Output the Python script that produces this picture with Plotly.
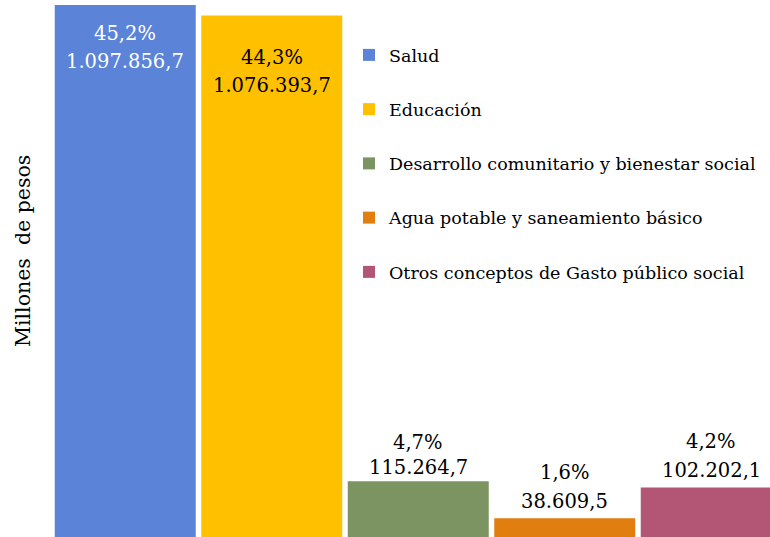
import plotly.graph_objects as go

categories = ["Salud", "Educación", "Desarrollo comunitario y bienestar social",
              "Agua potable y saneamiento básico", "Otros conceptos de Gasto público social"]
values = [1097856.7, 1076393.7, 115264.7, 38609.5, 102202.1]
percent_labels = ["45,2%", "44,3%", "4,7%", "1,6%", "4,2%"]
value_labels = ["1.097.856,7", "1.076.393,7", "115.264,7", "38.609,5", "102.202,1"]

colors = ["#5B83D7", "#FFC000", "#7B9462", "#E07F10", "#B35574"]
label_colors = ["white", "black", "black", "black", "black"]
# vertical pixel offsets of each label line's centre from the bar top (+ = up)
pct_shift = [-28.5, -42, 39, 45.5, 46]
val_shift = [-56.5, -70, 14, 17, 17]

FONT = "DejaVu Serif"
W, H = 770, 537
ML = 52
plot_w = W - ML
slot = 146.5

fig = go.Figure()
for i, (cat, v, c) in enumerate(zip(categories, values, colors)):
    fig.add_trace(go.Bar(
        x=[i], y=[v], name=cat, marker=dict(color=c, line=dict(width=0)),
        width=0.9625, legendgroup=str(i), showlegend=True, hoverinfo="skip",
    ))
    for txt, sh in ((percent_labels[i], pct_shift[i]), (value_labels[i], val_shift[i])):
        fig.add_annotation(
            x=i, y=v, xref="x", yref="y", text=txt, showarrow=False,
            yanchor="middle", yshift=sh,
            font=dict(family=FONT, size=19.5, color=label_colors[i]),
        )

fig.add_annotation(
    text="Millones  de pesos", textangle=-90, showarrow=False,
    xref="paper", yref="paper", x=(23 - ML) / plot_w, y=1 - 251 / H,
    xanchor="center", yanchor="middle",
    font=dict(family=FONT, size=20.5, color="black"),
)

fig.update_layout(
    width=W, height=H,
    font=dict(family=FONT),
    margin=dict(l=ML, r=0, t=0, b=0),
    paper_bgcolor="white", plot_bgcolor="white",
    barmode="overlay",
    showlegend=True,
    legend=dict(
        x=(349 - ML) / plot_w, xanchor="left",
        y=1 - 37 / H, yanchor="top",
        font=dict(family=FONT, size=17.5, color="black"),
        tracegroupgap=28.5, bgcolor="rgba(0,0,0,0)",
    ),
    xaxis=dict(range=[-0.5, -0.5 + plot_w / slot], visible=False, fixedrange=True),
    yaxis=dict(range=[0, 1108200], visible=False, fixedrange=True),
)

fig.write_html("out.html", config={"displayModeBar": False},
               post_script="document.body.style.margin='0';document.body.style.overflow='hidden';")
